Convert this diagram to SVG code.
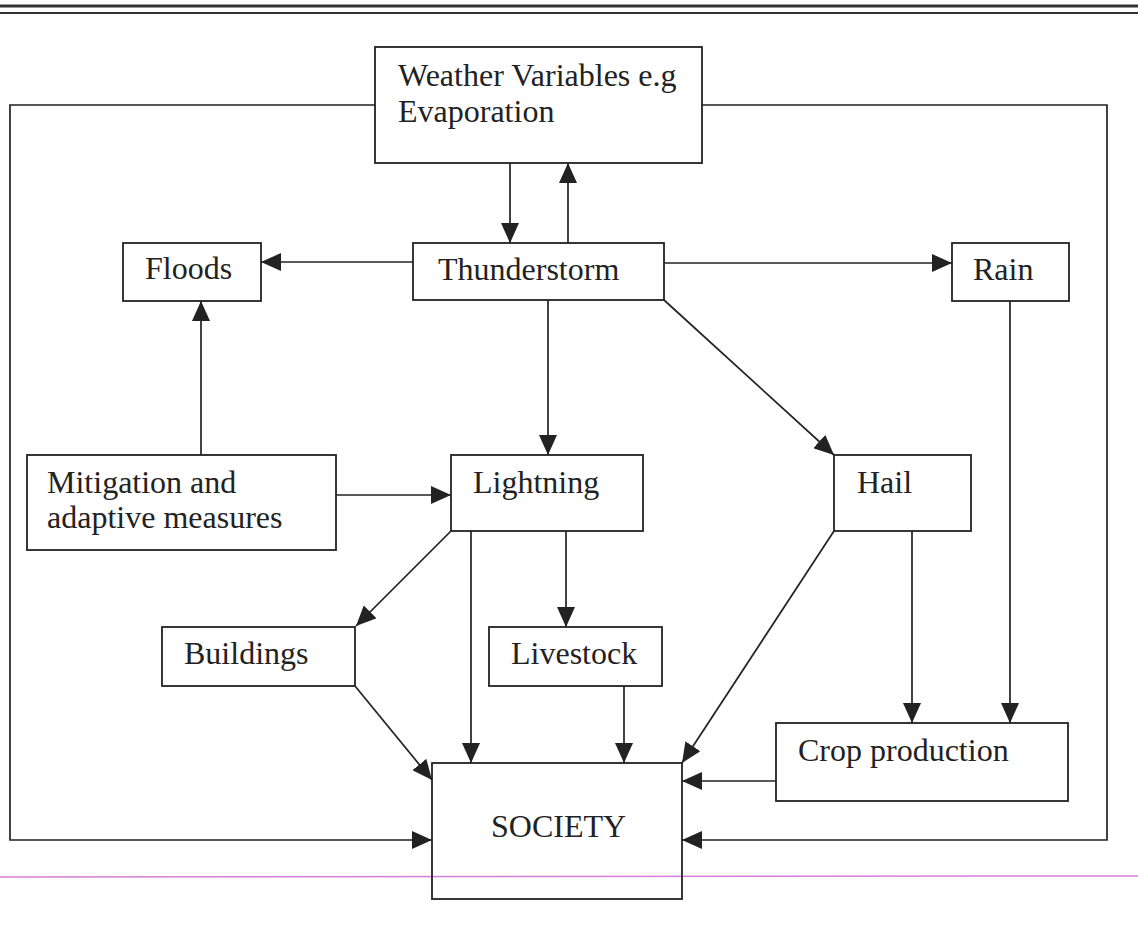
<svg xmlns="http://www.w3.org/2000/svg" width="1138" height="950" viewBox="0 0 1138 950">
<style>
.box{fill:#fff;stroke:#222;stroke-width:1.8}
.lbl{font-family:"Liberation Serif","Times New Roman",serif;font-size:32px;fill:#222}
.ln{fill:none;stroke:#222;stroke-width:1.7}
</style>
<defs>
<marker id="ah" markerUnits="userSpaceOnUse" markerWidth="20" markerHeight="18" refX="20" refY="9" orient="auto">
<path d="M0,0 L20,9 L0,18 z" fill="#222"/>
</marker>
</defs>
<rect width="1138" height="950" fill="#fff"/>
<line x1="0" y1="6" x2="1138" y2="6" stroke="#333" stroke-width="3"/>
<line x1="0" y1="13" x2="1138" y2="13" stroke="#333" stroke-width="2.2"/>
<line x1="0" y1="877" x2="1138" y2="876" stroke="#d77ddb" stroke-width="1.5"/>
<g id="connectors">
<polyline class="ln" points="375,105 10,105 10,840 432,840" marker-end="url(#ah)"/>
<polyline class="ln" points="702,105 1107,105 1107,840 682,840" marker-end="url(#ah)"/>
<line class="ln" x1="510" y1="163" x2="510" y2="243" marker-end="url(#ah)"/>
<line class="ln" x1="568" y1="243" x2="568" y2="163" marker-end="url(#ah)"/>
<line class="ln" x1="413" y1="262" x2="261" y2="262" marker-end="url(#ah)"/>
<line class="ln" x1="664" y1="263" x2="952" y2="263" marker-end="url(#ah)"/>
<line class="ln" x1="201" y1="455" x2="201" y2="301" marker-end="url(#ah)"/>
<line class="ln" x1="336" y1="495" x2="451" y2="495" marker-end="url(#ah)"/>
<line class="ln" x1="548" y1="300" x2="548" y2="455" marker-end="url(#ah)"/>
<line class="ln" x1="664" y1="300" x2="834" y2="455" marker-end="url(#ah)"/>
<line class="ln" x1="451" y1="531" x2="356" y2="626" marker-end="url(#ah)"/>
<line class="ln" x1="471" y1="531" x2="471" y2="763" marker-end="url(#ah)"/>
<line class="ln" x1="566" y1="531" x2="566" y2="627" marker-end="url(#ah)"/>
<line class="ln" x1="834" y1="531" x2="682" y2="763" marker-end="url(#ah)"/>
<line class="ln" x1="912" y1="531" x2="912" y2="723" marker-end="url(#ah)"/>
<line class="ln" x1="1010" y1="301" x2="1010" y2="723" marker-end="url(#ah)"/>
<line class="ln" x1="355" y1="686" x2="432" y2="780" marker-end="url(#ah)"/>
<line class="ln" x1="624" y1="686" x2="624" y2="763" marker-end="url(#ah)"/>
<line class="ln" x1="776" y1="781" x2="682" y2="781" marker-end="url(#ah)"/>
</g>
<g id="weather">
<rect class="box" x="375" y="47" width="327" height="116"/>
<text class="lbl" x="398" y="86">Weather Variables e.g</text>
<text class="lbl" x="398" y="122">Evaporation</text>
</g>
<g id="thunderstorm">
<rect class="box" x="413" y="243" width="251" height="57"/>
<text class="lbl" x="438" y="280">Thunderstorm</text>
</g>
<g id="floods">
<rect class="box" x="123" y="243" width="138" height="58"/>
<text class="lbl" x="145" y="279">Floods</text>
</g>
<g id="rain">
<rect class="box" x="952" y="243" width="117" height="58"/>
<text class="lbl" x="973" y="280">Rain</text>
</g>
<g id="mitigation">
<rect class="box" x="27" y="455" width="309" height="95"/>
<text class="lbl" x="47" y="493">Mitigation and</text>
<text class="lbl" x="47" y="528">adaptive measures</text>
</g>
<g id="lightning">
<rect class="box" x="451" y="455" width="192" height="76"/>
<text class="lbl" x="473" y="493">Lightning</text>
</g>
<g id="hail">
<rect class="box" x="834" y="455" width="137" height="76"/>
<text class="lbl" x="857" y="493">Hail</text>
</g>
<g id="buildings">
<rect class="box" x="162" y="627" width="193" height="59"/>
<text class="lbl" x="184" y="664">Buildings</text>
</g>
<g id="livestock">
<rect class="box" x="489" y="627" width="173" height="59"/>
<text class="lbl" x="511" y="664">Livestock</text>
</g>
<g id="crop">
<rect class="box" x="776" y="723" width="292" height="78"/>
<text class="lbl" x="798" y="761">Crop production</text>
</g>
<g id="society">
<rect class="box" x="432" y="763" width="250" height="136" fill="none" style="fill:none"/>
<text class="lbl" x="491" y="837">SOCIETY</text>
</g>
</svg>
